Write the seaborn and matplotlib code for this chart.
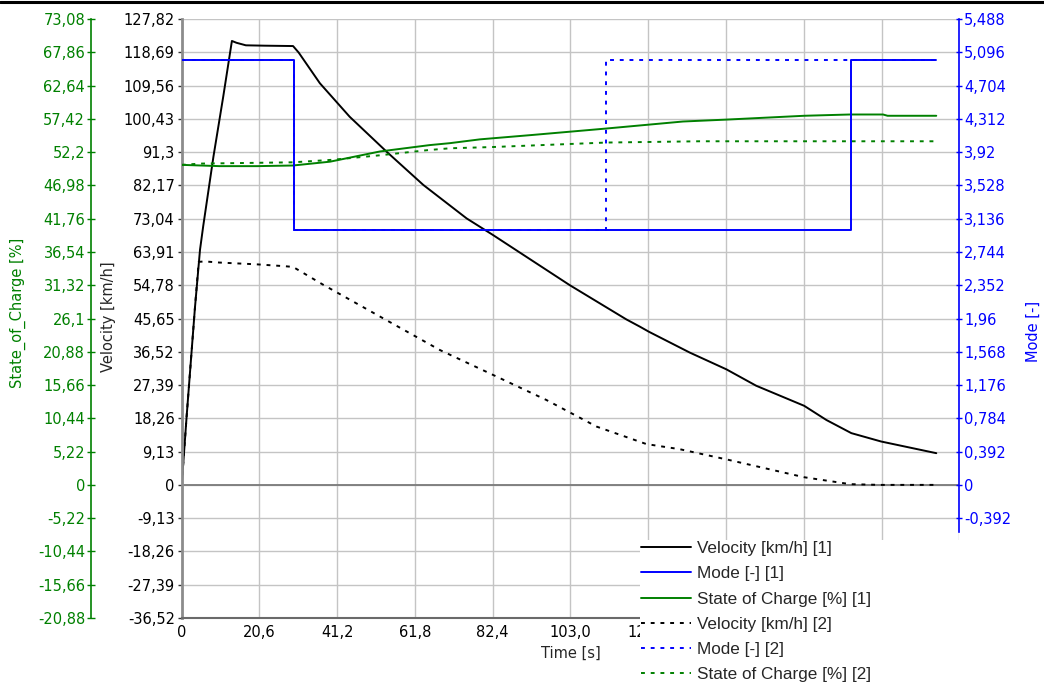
import numpy as np
import pandas as pd
import matplotlib
matplotlib.use("Agg")
import matplotlib.pyplot as plt
import seaborn as sns
from matplotlib.lines import Line2D

# ---------------- data ----------------
time_v1 = [0, 1.3, 3.5, 4.85, 5.7, 8.4, 11.0, 13.3, 14.5, 17.0, 22.0, 29.5, 31.0, 36.6, 44.5,
           54.3, 64.0, 75.5, 82.4, 102.8, 117.8, 121.4, 123.8, 134.6, 144.3, 152.2,
           164.9, 170.8, 177.4, 185.3, 199.9]
vel1 = [0, 18.7, 48.5, 64.5, 71.0, 90.0, 106.5, 121.8, 121.3, 120.6, 120.5, 120.4, 118.6, 110.2, 101.0,
        91.4, 82.3, 73.1, 68.6, 54.8, 45.4, 43.4, 42.0, 36.3, 31.7, 27.2,
        21.7, 17.8, 14.2, 11.9, 8.7]

time_v2 = [0, 1.3, 3.5, 4.5, 6.2, 10.0, 20.0, 27.3, 29.5, 37.5, 52.5, 68.4, 81.6, 96.6, 109.9,
           123.1, 131.9, 144.3, 164.9, 177.1, 185.0, 199.9]
vel2 = [0, 18.7, 48.5, 61.2, 61.3, 61.0, 60.5, 60.0, 59.8, 54.9, 46.2, 37.0, 30.6, 23.3, 16.0,
        11.2, 9.8, 7.0, 2.1, 0.2, 0.0, 0.0]

time_m1 = [0, 29.7, 29.7, 177.2, 177.2, 199.9]
mode1 = [5, 5, 3, 3, 5, 5]
time_m2 = [0, 29.7, 29.7, 112.3, 112.3, 199.9]
mode2 = [5, 5, 3, 3, 5, 5]

time_s1 = [0, 5, 10, 20, 29.5, 39.3, 52.5, 65.7, 71.0, 79.0, 93.1, 112.5, 132.8, 144.3,
           164.9, 177.0, 185.8, 187.0, 199.9]
soc1 = [50.2, 50.1, 50.0, 50.0, 50.1, 50.7, 52.3, 53.3, 53.6, 54.2, 54.9, 55.9, 57.0, 57.3,
        57.9, 58.1, 58.1, 57.9, 57.9]

time_s2 = [0, 5, 29.5, 40.0, 52.5, 65.0, 71.0, 82.5, 112.5, 137.2, 160.0, 199.9]
soc2 = [50.2, 50.4, 50.6, 51.0, 51.7, 52.5, 52.8, 53.0, 53.7, 53.9, 53.9, 53.9]

x_ticks = [0, 20.6, 41.2, 61.8, 82.4, 103.0, 123.6, 144.2, 164.8, 185.4, 206.0]
# labels past 123,6 are hidden behind the legend in the reference
x_labels = ["0", "20,6", "41,2", "61,8", "82,4", "103,0", "123,6", "", "", "", ""]

vel_ticks = [-36.52, -27.39, -18.26, -9.13, 0, 9.13, 18.26, 27.39, 36.52, 45.65, 54.78, 63.91,
             73.04, 82.17, 91.3, 100.43, 109.56, 118.69, 127.82]
vel_labels = ["-36,52", "-27,39", "-18,26", "-9,13", "0", "9,13", "18,26", "27,39", "36,52",
              "45,65", "54,78", "63,91", "73,04", "82,17", "91,3", "100,43", "109,56",
              "118,69", "127,82"]

soc_ticks = [-20.88, -15.66, -10.44, -5.22, 0, 5.22, 10.44, 15.66, 20.88, 26.1, 31.32, 36.54,
             41.76, 46.98, 52.2, 57.42, 62.64, 67.86, 73.08]
soc_labels = ["-20,88", "-15,66", "-10,44", "-5,22", "0", "5,22", "10,44", "15,66", "20,88",
              "26,1", "31,32", "36,54", "41,76", "46,98", "52,2", "57,42", "62,64", "67,86",
              "73,08"]

mode_ticks = [-0.392, 0, 0.392, 0.784, 1.176, 1.568, 1.96, 2.352, 2.744, 3.136, 3.528, 3.92,
              4.312, 4.704, 5.096, 5.488]
mode_labels = ["-0,392", "0", "0,392", "0,784", "1,176", "1,568", "1,96", "2,352", "2,744",
               "3,136", "3,528", "3,92", "4,312", "4,704", "5,096", "5,488"]

legend_labels = ["Velocity [km/h] [1]", "Mode [-] [1]", "State of Charge [%] [1]",
                 "Velocity [km/h] [2]", "Mode [-] [2]", "State of Charge [%] [2]"]

# ---------------- style ----------------
sns.set_style("white")
plt.rcParams["font.family"] = ["DejaVu Sans"]
FS = 10.5
plt.rcParams["font.size"] = FS

BLACK = "#000000"
BLUE = "#0000ff"
GREEN = "#008000"
LW = 1.4
DASH = (0, (2, 3))

W, H = 1044, 684
fig = plt.figure(figsize=(W / 100, H / 100), dpi=100)
x0, x1 = 181.7, 959.3
y0, y1 = 19, 618
ax = fig.add_axes([x0 / W, 1 - y1 / H, (x1 - x0) / W, (y1 - y0) / H])
ax_soc = ax.twinx()
ax_mode = ax.twinx()

# ---------------- plot series ----------------
df_v1 = pd.DataFrame({"t": time_v1, "v": vel1})
df_v2 = pd.DataFrame({"t": time_v2, "v": vel2})
df_m1 = pd.DataFrame({"t": time_m1, "m": mode1})
df_m2 = pd.DataFrame({"t": time_m2, "m": mode2})
df_s1 = pd.DataFrame({"t": time_s1, "s": soc1})
df_s2 = pd.DataFrame({"t": time_s2, "s": soc2})

sns.lineplot(data=df_v2, x="t", y="v", ax=ax, color=BLACK, lw=LW, linestyle=DASH,
             estimator=None, sort=False, legend=False)
sns.lineplot(data=df_v1, x="t", y="v", ax=ax, color=BLACK, lw=LW,
             estimator=None, sort=False, legend=False)
sns.lineplot(data=df_s2, x="t", y="s", ax=ax_soc, color=GREEN, lw=LW, linestyle=DASH,
             estimator=None, sort=False, legend=False)
sns.lineplot(data=df_s1, x="t", y="s", ax=ax_soc, color=GREEN, lw=LW,
             estimator=None, sort=False, legend=False)
sns.lineplot(data=df_m2, x="t", y="m", ax=ax_mode, color=BLUE, lw=LW, linestyle=DASH,
             estimator=None, sort=False, legend=False)
sns.lineplot(data=df_m1, x="t", y="m", ax=ax_mode, color=BLUE, lw=LW,
             estimator=None, sort=False, legend=False)

# ---------------- main (velocity) axis ----------------
ax.set_xlim(0, 206)
ax.set_ylim(-36.52, 127.82)
ax.set_xticks(x_ticks)
ax.set_xticklabels(x_labels)
ax.set_yticks(vel_ticks)
ax.set_yticklabels(vel_labels)
ax.grid(True, color="#c4c4c4", lw=1.0)
ax.set_axisbelow(True)
ax.axhline(0, color="#7a7a7a", lw=1.3, zorder=1.5)
for s in ["top", "right"]:
    ax.spines[s].set_visible(False)
ax.spines["left"].set_color("#8c8c8c")
ax.spines["left"].set_linewidth(2.0)
ax.spines["bottom"].set_color("#6a6a6a")
ax.spines["bottom"].set_linewidth(1.5)
ax.tick_params(axis="both", which="major", direction="out", length=3, width=1,
               color="#333333", labelsize=FS, pad=2, labelcolor="black")
ax.set_xlabel("Time [s]", fontsize=FS)
ax.xaxis.label.set_verticalalignment("center")
ax.xaxis.set_label_coords(0.5, (y1 - 653) / (y1 - y0))
ax.set_ylabel("Velocity [km/h]", fontsize=FS)
ax.yaxis.label.set_verticalalignment("center")
ax.yaxis.set_label_coords((109 - x0) / (x1 - x0), 0.503)

# ---------------- SOC axis (outer left) ----------------
ax_soc.set_ylim(-20.88, 73.08)
ax_soc.yaxis.tick_left()
ax_soc.yaxis.set_label_position("left")
for s in ["top", "right", "bottom"]:
    ax_soc.spines[s].set_visible(False)
ax_soc.spines["left"].set_visible(True)
ax_soc.spines["left"].set_position(("axes", (90.7 - x0) / (x1 - x0)))
ax_soc.spines["left"].set_color(GREEN)
ax_soc.spines["left"].set_linewidth(1.2)
ax_soc.set_yticks(soc_ticks)
ax_soc.set_yticklabels(soc_labels)
ax_soc.tick_params(axis="y", direction="inout", length=6, width=1, color=GREEN,
                   labelcolor=GREEN, labelsize=FS, pad=1)
ax_soc.set_ylabel("State_of_Charge [%]", color=GREEN, fontsize=FS)
ax_soc.yaxis.label.set_verticalalignment("center")
ax_soc.yaxis.set_label_coords((18 - x0) / (x1 - x0), 0.51)

# ---------------- Mode axis (right) ----------------
ax_mode.set_ylim(-1.568, 5.488)
for s in ["top", "left", "bottom"]:
    ax_mode.spines[s].set_visible(False)
ax_mode.spines["right"].set_color(BLUE)
ax_mode.spines["right"].set_linewidth(1.2)
ax_mode.spines["right"].set_bounds(-0.553, 5.488)
ax_mode.set_yticks(mode_ticks)
ax_mode.set_yticklabels(mode_labels)
ax_mode.tick_params(axis="y", direction="inout", length=5, width=1, color=BLUE,
                    labelcolor=BLUE, labelsize=FS, pad=1)
ax_mode.set_ylabel("Mode [-]", color=BLUE, fontsize=FS, rotation=90)
ax_mode.yaxis.label.set_verticalalignment("center")
ax_mode.yaxis.set_label_coords((1033 - x0) / (x1 - x0), (y1 - 331) / (y1 - y0))

for a in (ax, ax_soc, ax_mode):
    if a.get_legend() is not None:
        a.get_legend().remove()

# ---------------- legend ----------------
handles = [
    Line2D([], [], color=BLACK, lw=LW),
    Line2D([], [], color=BLUE, lw=LW),
    Line2D([], [], color=GREEN, lw=LW),
    Line2D([], [], color=BLACK, lw=LW, linestyle=DASH),
    Line2D([], [], color=BLUE, lw=LW, linestyle=DASH),
    Line2D([], [], color=GREEN, lw=LW, linestyle=DASH),
]
leg = fig.legend(handles, legend_labels, loc="upper left",
                 bbox_to_anchor=(639.5 / W, 1 - 539.5 / H, (962 - 639.5) / W, 0),
                 mode="expand", bbox_transform=fig.transFigure,
                 prop={"family": "Liberation Sans", "size": 12.3},
                 frameon=True, facecolor="white", edgecolor="none", framealpha=1,
                 fancybox=False, borderpad=0.1, borderaxespad=0,
                 handlelength=2.9, handletextpad=0.35, labelspacing=0.6)

# top border line
fig.add_artist(Line2D([0, 1], [1 - 1.5 / H, 1 - 1.5 / H], transform=fig.transFigure,
                      color="black", lw=2.2))

fig.savefig("out.png", dpi=100)
